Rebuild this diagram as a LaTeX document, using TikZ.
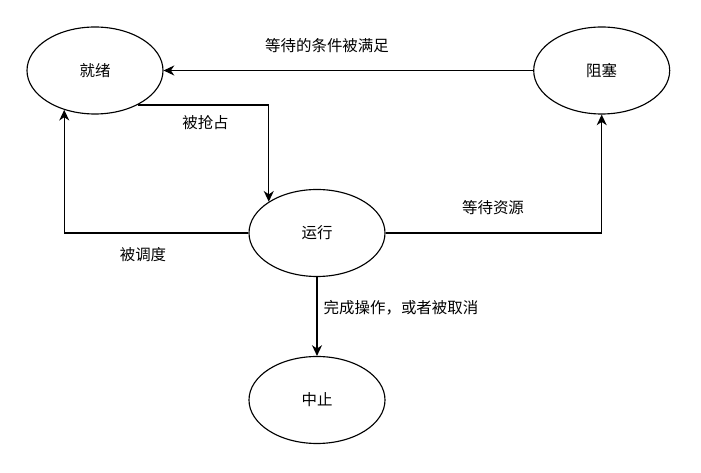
\documentclass[tikz,border=0pt]{standalone}
\usepackage{fontspec}
\newfontfamily\cjk{Noto Sans CJK SC}
\usetikzlibrary{arrows.meta,shapes.geometric}
\begin{document}
\begin{tikzpicture}[x=0.75pt,y=-0.75pt,
  state/.style={draw,ellipse,line width=0.85pt,minimum width=136*0.75pt,minimum height=87*0.75pt,inner sep=0pt,font=\cjk\fontsize{11.6}{13}\selectfont},
  conn/.style={draw,line width=0.85pt,-{Stealth[length=8pt,width=7.5pt,inset=2.5pt]}},
  lbl/.style={font=\cjk\fontsize{11.6}{13}\selectfont,inner sep=0pt}]
\useasboundingbox (0,0) rectangle (701,473);
\node[state] (ready) at (95,70.5) {就绪};
\node[state] (blocked) at (601.7,70.5) {阻塞};
\node[state] (run) at (317,233) {运行};
\node[state] (stop) at (317,400) {中止};
\draw[conn] (blocked.west) -- (ready.east);
\draw[conn] (ready.-39) -| (run.147);
\draw[conn] (run.west) -| (ready.232);
\draw[conn] (run.east) -| (blocked.south);
\draw[conn] (run.south) -- (stop.north);
\node[lbl] (l1) at (327,46) {等待的条件被满足};
\node[lbl] (l2) at (205.5,123) {被抢占};
\node[lbl] (l3) at (143,255) {被调度};
\node[lbl] (l4) at (493,208) {等待资源};
\node[lbl] (l5) at (401,308) {完成操作，或者被取消};
\end{tikzpicture}
\end{document}
